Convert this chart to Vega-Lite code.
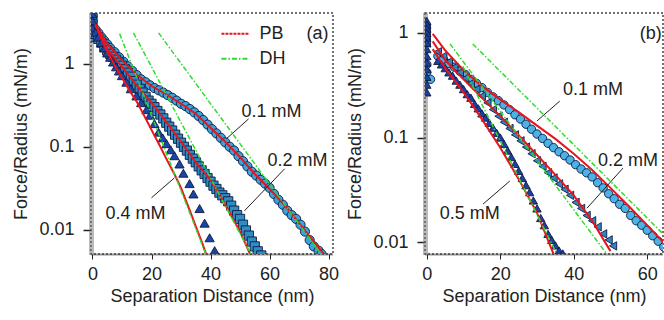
{
  "$schema": "https://vega.github.io/schema/vega-lite/v6.json",
  "padding": {"left": 12, "top": 12, "right": 0, "bottom": 0},
  "spacing": 6,
  "config": {
    "font": "Liberation Sans",
    "view": {"stroke": "#444", "strokeDash": [2, 2], "strokeWidth": 1.5},
    "axis": {"labelFontSize": 18, "titleFontSize": 18, "titleFontWeight": "normal", "labelColor": "#222", "titleColor": "#222", "grid": false, "labelFont": "Liberation Sans", "titleFont": "Liberation Sans"}
  },
  "datasets": {
    "a_pts": [
      {"series":"a 0.1","x":0,"y":3.8},{"series":"a 0.1","x":0,"y":3.2},{"series":"a 0.1","x":0,"y":2.7},{"series":"a 0.1","x":1,"y":2.6},{"series":"a 0.1","x":2,"y":2.35},{"series":"a 0.1","x":3,"y":2.1},{"series":"a 0.1","x":4,"y":1.9},{"series":"a 0.1","x":5,"y":1.72},{"series":"a 0.1","x":6,"y":1.55},{"series":"a 0.1","x":7.5,"y":1.38},{"series":"a 0.1","x":9,"y":1.2},{"series":"a 0.1","x":10.5,"y":1.06},{"series":"a 0.1","x":12,"y":0.93},{"series":"a 0.1","x":13.5,"y":0.82},{"series":"a 0.1","x":15,"y":0.73},{"series":"a 0.1","x":16.5,"y":0.65},{"series":"a 0.1","x":18,"y":0.6},{"series":"a 0.1","x":19.5,"y":0.55},{"series":"a 0.1","x":21,"y":0.51},{"series":"a 0.1","x":22.5,"y":0.48},{"series":"a 0.1","x":24,"y":0.45},{"series":"a 0.1","x":25.5,"y":0.42},{"series":"a 0.1","x":27,"y":0.39},{"series":"a 0.1","x":28.5,"y":0.36},{"series":"a 0.1","x":30,"y":0.33},{"series":"a 0.1","x":31.5,"y":0.31},{"series":"a 0.1","x":33,"y":0.285},{"series":"a 0.1","x":34.5,"y":0.26},{"series":"a 0.1","x":36,"y":0.235},{"series":"a 0.1","x":37.5,"y":0.21},{"series":"a 0.1","x":39,"y":0.185},{"series":"a 0.1","x":40.5,"y":0.163},{"series":"a 0.1","x":42,"y":0.145},{"series":"a 0.1","x":43.5,"y":0.128},{"series":"a 0.1","x":45,"y":0.113},{"series":"a 0.1","x":46.5,"y":0.1},{"series":"a 0.1","x":48,"y":0.09},{"series":"a 0.1","x":49.5,"y":0.077},{"series":"a 0.1","x":51,"y":0.067},{"series":"a 0.1","x":52.5,"y":0.058},{"series":"a 0.1","x":54,"y":0.05},{"series":"a 0.1","x":55.5,"y":0.045},{"series":"a 0.1","x":57,"y":0.04},{"series":"a 0.1","x":58.5,"y":0.036},{"series":"a 0.1","x":60,"y":0.032},{"series":"a 0.1","x":61.5,"y":0.027},{"series":"a 0.1","x":63,"y":0.023},{"series":"a 0.1","x":64.5,"y":0.02},{"series":"a 0.1","x":66,"y":0.017},{"series":"a 0.1","x":67.5,"y":0.015},{"series":"a 0.1","x":69,"y":0.0135},{"series":"a 0.1","x":70.5,"y":0.0115},{"series":"a 0.1","x":72,"y":0.0095},{"series":"a 0.1","x":73.6,"y":0.0075},{"series":"a 0.1","x":75,"y":0.0063},{"series":"a 0.1","x":76.6,"y":0.0056},{"series":"a 0.1","x":77.6,"y":0.0051},
      {"series":"a 0.2","x":0,"y":3.6},{"series":"a 0.2","x":0,"y":3.0},{"series":"a 0.2","x":0,"y":2.5},{"series":"a 0.2","x":0,"y":2.1},{"series":"a 0.2","x":1,"y":2.3},{"series":"a 0.2","x":2,"y":2.0},{"series":"a 0.2","x":3,"y":1.8},{"series":"a 0.2","x":4,"y":1.6},{"series":"a 0.2","x":5,"y":1.45},{"series":"a 0.2","x":6,"y":1.32},{"series":"a 0.2","x":7,"y":1.22},{"series":"a 0.2","x":8,"y":1.12},{"series":"a 0.2","x":9,"y":1.03},{"series":"a 0.2","x":10,"y":0.95},{"series":"a 0.2","x":11,"y":0.86},{"series":"a 0.2","x":12,"y":0.78},{"series":"a 0.2","x":13,"y":0.7},{"series":"a 0.2","x":14,"y":0.62},{"series":"a 0.2","x":15,"y":0.56},{"series":"a 0.2","x":16,"y":0.5},{"series":"a 0.2","x":17,"y":0.45},{"series":"a 0.2","x":18,"y":0.4},{"series":"a 0.2","x":19,"y":0.36},{"series":"a 0.2","x":20,"y":0.33},{"series":"a 0.2","x":21,"y":0.3},{"series":"a 0.2","x":22,"y":0.27},{"series":"a 0.2","x":23,"y":0.245},{"series":"a 0.2","x":24,"y":0.22},{"series":"a 0.2","x":25,"y":0.195},{"series":"a 0.2","x":26,"y":0.175},{"series":"a 0.2","x":27,"y":0.157},{"series":"a 0.2","x":28,"y":0.14},{"series":"a 0.2","x":29,"y":0.125},{"series":"a 0.2","x":30,"y":0.112},{"series":"a 0.2","x":31,"y":0.1},{"series":"a 0.2","x":32,"y":0.09},{"series":"a 0.2","x":33,"y":0.08},{"series":"a 0.2","x":34,"y":0.072},{"series":"a 0.2","x":35,"y":0.065},{"series":"a 0.2","x":36,"y":0.058},{"series":"a 0.2","x":37,"y":0.052},{"series":"a 0.2","x":38,"y":0.047},{"series":"a 0.2","x":39,"y":0.042},{"series":"a 0.2","x":40,"y":0.038},{"series":"a 0.2","x":41,"y":0.034},{"series":"a 0.2","x":42,"y":0.031},{"series":"a 0.2","x":43,"y":0.028},{"series":"a 0.2","x":44,"y":0.026},{"series":"a 0.2","x":45,"y":0.024},{"series":"a 0.2","x":46,"y":0.022},{"series":"a 0.2","x":47,"y":0.0195},{"series":"a 0.2","x":48,"y":0.017},{"series":"a 0.2","x":49,"y":0.015},{"series":"a 0.2","x":50,"y":0.0135},{"series":"a 0.2","x":51,"y":0.0115},{"series":"a 0.2","x":52,"y":0.0098},{"series":"a 0.2","x":53,"y":0.0085},{"series":"a 0.2","x":54,"y":0.0072},{"series":"a 0.2","x":55,"y":0.0063},{"series":"a 0.2","x":56,"y":0.0055},{"series":"a 0.2","x":57.2,"y":0.0049},
      {"series":"a 0.4","x":0,"y":4.0},{"series":"a 0.4","x":0,"y":3.3},{"series":"a 0.4","x":0,"y":2.7},{"series":"a 0.4","x":1,"y":2.4},{"series":"a 0.4","x":2,"y":2.1},{"series":"a 0.4","x":3,"y":1.8},{"series":"a 0.4","x":4,"y":1.55},{"series":"a 0.4","x":5,"y":1.35},{"series":"a 0.4","x":6,"y":1.2},{"series":"a 0.4","x":7,"y":1.05},{"series":"a 0.4","x":8,"y":0.92},{"series":"a 0.4","x":9,"y":0.82},{"series":"a 0.4","x":10,"y":0.72},{"series":"a 0.4","x":11.5,"y":0.6},{"series":"a 0.4","x":13,"y":0.5},{"series":"a 0.4","x":14.9,"y":0.41},{"series":"a 0.4","x":16.5,"y":0.34},{"series":"a 0.4","x":18.3,"y":0.28},{"series":"a 0.4","x":19.5,"y":0.24},{"series":"a 0.4","x":21,"y":0.19},{"series":"a 0.4","x":22.4,"y":0.15},{"series":"a 0.4","x":23.8,"y":0.128},{"series":"a 0.4","x":25.1,"y":0.109},{"series":"a 0.4","x":26.5,"y":0.092},{"series":"a 0.4","x":27.8,"y":0.078},{"series":"a 0.4","x":29.5,"y":0.062},{"series":"a 0.4","x":30.8,"y":0.048},{"series":"a 0.4","x":32.9,"y":0.036},{"series":"a 0.4","x":34.2,"y":0.027},{"series":"a 0.4","x":36.3,"y":0.018},{"series":"a 0.4","x":38,"y":0.012},{"series":"a 0.4","x":39.7,"y":0.008},{"series":"a 0.4","x":41.4,"y":0.0056}
    ],
    "a_pb": [
      {"series":"0.1","x":1,"y":3.0},{"series":"0.1","x":5,"y":1.75},{"series":"0.1","x":10,"y":1.1},{"series":"0.1","x":15,"y":0.74},{"series":"0.1","x":20,"y":0.54},{"series":"0.1","x":25,"y":0.43},{"series":"0.1","x":30,"y":0.33},{"series":"0.1","x":35,"y":0.25},{"series":"0.1","x":40,"y":0.17},{"series":"0.1","x":45,"y":0.115},{"series":"0.1","x":50,"y":0.075},{"series":"0.1","x":55,"y":0.047},{"series":"0.1","x":60,"y":0.031},{"series":"0.1","x":65,"y":0.02},{"series":"0.1","x":70,"y":0.012},{"series":"0.1","x":75,"y":0.0072},{"series":"0.1","x":79,"y":0.0048},
      {"series":"0.2","x":1,"y":3.0},{"series":"0.2","x":5,"y":1.5},{"series":"0.2","x":10,"y":0.92},{"series":"0.2","x":15,"y":0.55},{"series":"0.2","x":20,"y":0.34},{"series":"0.2","x":25,"y":0.2},{"series":"0.2","x":30,"y":0.115},{"series":"0.2","x":35,"y":0.065},{"series":"0.2","x":40,"y":0.04},{"series":"0.2","x":45,"y":0.02},{"series":"0.2","x":50,"y":0.0095},{"series":"0.2","x":53.5,"y":0.005},
      {"series":"0.4","x":1,"y":3.0},{"series":"0.4","x":3,"y":2.0},{"series":"0.4","x":5,"y":1.4},{"series":"0.4","x":8,"y":0.9},{"series":"0.4","x":10,"y":0.68},{"series":"0.4","x":13,"y":0.45},{"series":"0.4","x":15,"y":0.35},{"series":"0.4","x":18,"y":0.22},{"series":"0.4","x":20,"y":0.16},{"series":"0.4","x":23,"y":0.1},{"series":"0.4","x":25,"y":0.072},{"series":"0.4","x":28,"y":0.045},{"series":"0.4","x":30,"y":0.032},{"series":"0.4","x":33,"y":0.017},{"series":"0.4","x":35,"y":0.011},{"series":"0.4","x":37,"y":0.0072},{"series":"0.4","x":38.6,"y":0.005}
    ],
    "a_dh": [
      {"series":"0.1","x":22.4,"y":2.36},{"series":"0.1","x":77.6,"y":0.005},
      {"series":"0.2","x":13.9,"y":2.36},{"series":"0.2","x":53.9,"y":0.0049},
      {"series":"0.4","x":9.2,"y":2.3},{"series":"0.4","x":38.6,"y":0.0049}
    ],
    "a_txt": [
      {"x":50.5,"y":0.264,"label":"0.1 mM"},
      {"x":59.3,"y":0.068,"label":"0.2 mM"},
      {"x":4.4,"y":0.0156,"label":"0.4 mM"},
      {"x":56.6,"y":2.3,"label":"PB"},
      {"x":56.6,"y":1.15,"label":"DH"},
      {"x":72.5,"y":2.3,"label":"(a)"}
    ],
    "a_ptr": [
      {"x":52.9,"y":0.217,"x2":45.4,"y2":0.125},
      {"x":65.1,"y":0.0543,"x2":51.5,"y2":0.0169},
      {"x":20,"y":0.0243,"x2":27.8,"y2":0.0423}
    ],
    "a_leg": [
      {"kind":"PB","x":43.7,"y":2.3,"x2":53.2,"y2":2.3},
      {"kind":"DH","x":43.7,"y":1.15,"x2":53.2,"y2":1.15}
    ],
    "b_pts": [
      {"series":"b 0.1","x":0,"y":0.5},{"series":"b 0.1","x":0,"y":0.42},{"series":"b 0.1","x":1,"y":0.36},{"series":"b 0.1","x":3,"y":0.6},{"series":"b 0.1","x":4.5,"y":0.56},{"series":"b 0.1","x":6,"y":0.51},{"series":"b 0.1","x":7.5,"y":0.47},{"series":"b 0.1","x":9,"y":0.43},{"series":"b 0.1","x":10.5,"y":0.4},{"series":"b 0.1","x":12,"y":0.36},{"series":"b 0.1","x":13.5,"y":0.33},{"series":"b 0.1","x":15,"y":0.3},{"series":"b 0.1","x":16.5,"y":0.27},{"series":"b 0.1","x":18,"y":0.245},{"series":"b 0.1","x":19.5,"y":0.225},{"series":"b 0.1","x":21,"y":0.205},{"series":"b 0.1","x":22.5,"y":0.185},{"series":"b 0.1","x":24,"y":0.165},{"series":"b 0.1","x":25.5,"y":0.15},{"series":"b 0.1","x":27,"y":0.134},{"series":"b 0.1","x":28.5,"y":0.12},{"series":"b 0.1","x":30,"y":0.108},{"series":"b 0.1","x":31.5,"y":0.098},{"series":"b 0.1","x":33,"y":0.088},{"series":"b 0.1","x":34.5,"y":0.08},{"series":"b 0.1","x":36,"y":0.073},{"series":"b 0.1","x":37.5,"y":0.067},{"series":"b 0.1","x":39,"y":0.061},{"series":"b 0.1","x":40.5,"y":0.055},{"series":"b 0.1","x":42,"y":0.05},{"series":"b 0.1","x":43.5,"y":0.046},{"series":"b 0.1","x":45,"y":0.042},{"series":"b 0.1","x":46.5,"y":0.037},{"series":"b 0.1","x":48,"y":0.033},{"series":"b 0.1","x":49.5,"y":0.029},{"series":"b 0.1","x":51,"y":0.026},{"series":"b 0.1","x":52.5,"y":0.023},{"series":"b 0.1","x":54,"y":0.021},{"series":"b 0.1","x":55.5,"y":0.018},{"series":"b 0.1","x":57,"y":0.016},{"series":"b 0.1","x":58.5,"y":0.0145},{"series":"b 0.1","x":60,"y":0.013},{"series":"b 0.1","x":61.5,"y":0.0115},{"series":"b 0.1","x":63,"y":0.0102},{"series":"b 0.1","x":64.5,"y":0.009},
      {"series":"b 0.2","x":0,"y":1.1},{"series":"b 0.2","x":0,"y":0.95},{"series":"b 0.2","x":0,"y":0.8},{"series":"b 0.2","x":3,"y":0.66},{"series":"b 0.2","x":4.5,"y":0.6},{"series":"b 0.2","x":6,"y":0.53},{"series":"b 0.2","x":7.5,"y":0.47},{"series":"b 0.2","x":9,"y":0.42},{"series":"b 0.2","x":10.5,"y":0.37},{"series":"b 0.2","x":12,"y":0.33},{"series":"b 0.2","x":13.5,"y":0.29},{"series":"b 0.2","x":15,"y":0.25},{"series":"b 0.2","x":16.5,"y":0.215},{"series":"b 0.2","x":18,"y":0.185},{"series":"b 0.2","x":19.5,"y":0.16},{"series":"b 0.2","x":21,"y":0.14},{"series":"b 0.2","x":22.5,"y":0.122},{"series":"b 0.2","x":24,"y":0.106},{"series":"b 0.2","x":25.5,"y":0.093},{"series":"b 0.2","x":27,"y":0.081},{"series":"b 0.2","x":28.5,"y":0.07},{"series":"b 0.2","x":30,"y":0.06},{"series":"b 0.2","x":31.5,"y":0.053},{"series":"b 0.2","x":33,"y":0.046},{"series":"b 0.2","x":34.5,"y":0.041},{"series":"b 0.2","x":36,"y":0.036},{"series":"b 0.2","x":37.5,"y":0.032},{"series":"b 0.2","x":39,"y":0.028},{"series":"b 0.2","x":40.5,"y":0.024},{"series":"b 0.2","x":42,"y":0.021},{"series":"b 0.2","x":43.5,"y":0.018},{"series":"b 0.2","x":45,"y":0.016},{"series":"b 0.2","x":46.5,"y":0.014},{"series":"b 0.2","x":48,"y":0.012},{"series":"b 0.2","x":49.5,"y":0.0105},{"series":"b 0.2","x":50.7,"y":0.0092},
      {"series":"b 0.5","x":0,"y":1.3},{"series":"b 0.5","x":0,"y":1.2},{"series":"b 0.5","x":0,"y":1.1},{"series":"b 0.5","x":0,"y":1.0},{"series":"b 0.5","x":0,"y":0.9},{"series":"b 0.5","x":0,"y":0.8},{"series":"b 0.5","x":0,"y":0.7},{"series":"b 0.5","x":0,"y":0.6},{"series":"b 0.5","x":0,"y":0.52},{"series":"b 0.5","x":0,"y":0.45},{"series":"b 0.5","x":0,"y":0.38},{"series":"b 0.5","x":0,"y":0.32},{"series":"b 0.5","x":0,"y":0.27},{"series":"b 0.5","x":3,"y":0.54},{"series":"b 0.5","x":4,"y":0.5},{"series":"b 0.5","x":5,"y":0.46},{"series":"b 0.5","x":6,"y":0.42},{"series":"b 0.5","x":7,"y":0.39},{"series":"b 0.5","x":8,"y":0.35},{"series":"b 0.5","x":9,"y":0.32},{"series":"b 0.5","x":10,"y":0.29},{"series":"b 0.5","x":11,"y":0.26},{"series":"b 0.5","x":12,"y":0.24},{"series":"b 0.5","x":13,"y":0.21},{"series":"b 0.5","x":14,"y":0.19},{"series":"b 0.5","x":15,"y":0.17},{"series":"b 0.5","x":16,"y":0.155},{"series":"b 0.5","x":17,"y":0.138},{"series":"b 0.5","x":18,"y":0.124},{"series":"b 0.5","x":19,"y":0.111},{"series":"b 0.5","x":20,"y":0.1},{"series":"b 0.5","x":21,"y":0.087},{"series":"b 0.5","x":22,"y":0.075},{"series":"b 0.5","x":23,"y":0.065},{"series":"b 0.5","x":24,"y":0.056},{"series":"b 0.5","x":25,"y":0.048},{"series":"b 0.5","x":26,"y":0.041},{"series":"b 0.5","x":27,"y":0.035},{"series":"b 0.5","x":28,"y":0.03},{"series":"b 0.5","x":29,"y":0.025},{"series":"b 0.5","x":30,"y":0.021},{"series":"b 0.5","x":31,"y":0.017},{"series":"b 0.5","x":32,"y":0.0145},{"series":"b 0.5","x":33,"y":0.012},{"series":"b 0.5","x":34,"y":0.0105},{"series":"b 0.5","x":35,"y":0.0093},{"series":"b 0.5","x":36,"y":0.0083},{"series":"b 0.5","x":37,"y":0.0078}
    ],
    "b_pb": [
      {"series":"0.1","x":1.6,"y":0.98},{"series":"0.1","x":5,"y":0.68},{"series":"0.1","x":10,"y":0.44},{"series":"0.1","x":15,"y":0.31},{"series":"0.1","x":20,"y":0.23},{"series":"0.1","x":25,"y":0.175},{"series":"0.1","x":30,"y":0.13},{"series":"0.1","x":35,"y":0.097},{"series":"0.1","x":40,"y":0.07},{"series":"0.1","x":45,"y":0.049},{"series":"0.1","x":50,"y":0.033},{"series":"0.1","x":55,"y":0.022},{"series":"0.1","x":60,"y":0.0145},{"series":"0.1","x":65,"y":0.0095},
      {"series":"0.2","x":1.6,"y":0.83},{"series":"0.2","x":5,"y":0.55},{"series":"0.2","x":10,"y":0.36},{"series":"0.2","x":15,"y":0.24},{"series":"0.2","x":20,"y":0.16},{"series":"0.2","x":25,"y":0.105},{"series":"0.2","x":30,"y":0.068},{"series":"0.2","x":35,"y":0.044},{"series":"0.2","x":40,"y":0.028},{"series":"0.2","x":45,"y":0.016},{"series":"0.2","x":50,"y":0.0082},
      {"series":"0.5","x":1.6,"y":0.7},{"series":"0.5","x":5,"y":0.46},{"series":"0.5","x":10,"y":0.27},{"series":"0.5","x":15,"y":0.15},{"series":"0.5","x":20,"y":0.08},{"series":"0.5","x":25,"y":0.04},{"series":"0.5","x":30,"y":0.019},{"series":"0.5","x":34.5,"y":0.0077}
    ],
    "b_dh": [
      {"series":"0.1","x":12.5,"y":0.785},{"series":"0.1","x":64.3,"y":0.012},
      {"series":"0.2","x":6.3,"y":0.785},{"series":"0.2","x":49,"y":0.0077},
      {"series":"0.5","x":9.8,"y":0.48},{"series":"0.5","x":35.4,"y":0.0077}
    ],
    "b_txt": [
      {"x":37.1,"y":0.285,"label":"0.1 mM"},
      {"x":46.6,"y":0.0596,"label":"0.2 mM"},
      {"x":3.5,"y":0.0185,"label":"0.5 mM"},
      {"x":58,"y":0.98,"label":"(b)"}
    ],
    "b_ptr": [
      {"x":36.2,"y":0.223,"x2":30,"y2":0.144},
      {"x":53.4,"y":0.051,"x2":43.6,"y2":0.0211},
      {"x":15.3,"y":0.0231,"x2":22.6,"y2":0.0384}
    ]
  },
  "hconcat": [
    {
      "width": 242,
      "height": 241,
      "encoding": {
        "x": {"field": "x", "type": "quantitative", "scale": {"domain": [-0.5, 81.5], "nice": false, "zero": false},
              "axis": {"values": [0, 20, 40, 60, 80], "title": "Separation Distance (nm)", "tickSize": 5, "tickColor": "#222", "labelPadding": 6, "titlePadding": 4, "domainColor": "#333", "domainWidth": 2, "domainDash": [1, 1], "labelFlush": false}},
        "y": {"field": "y", "type": "quantitative", "scale": {"type": "log", "domain": [0.0051, 4.1], "nice": false},
              "axis": {"values": [0.01, 0.1, 1], "format": "~g", "title": "Force/Radius (mN/m)", "tickSize": 8, "tickWidth": 1.5, "tickColor": "#222", "labelPadding": 9, "titlePadding": 8, "domainColor": "#777", "domainWidth": 5, "domainDash": [1, 1]}}
      },
      "layer": [
        {
          "data": {"name": "a_pts"},
          "mark": {"type": "point", "filled": true, "opacity": 1, "stroke": "#0d1b3e", "strokeWidth": 0.9, "size": 85, "clip": true},
          "encoding": {
            "shape": {"field": "series", "type": "nominal", "legend": null,
                      "scale": {"domain": ["a 0.1", "a 0.2", "a 0.4", "b 0.1", "b 0.2", "b 0.5"], "range": ["circle", "square", "triangle-up", "circle", "triangle-left", "triangle-up"]}},
            "fill": {"field": "series", "type": "nominal", "legend": null,
                     "scale": {"domain": ["a 0.1", "a 0.2", "a 0.4", "b 0.1", "b 0.2", "b 0.5"], "range": ["#3aa3dc", "#2f8cc5", "#1c43a6", "#4cb2e6", "#2d86c6", "#1d3fa3"]}}
          }
        },
        {
          "data": {"name": "a_pb"},
          "mark": {"type": "line", "color": "#e8141c", "strokeWidth": 2, "clip": true},
          "encoding": {"detail": {"field": "series", "type": "nominal"}}
        },
        {
          "data": {"name": "a_dh"},
          "mark": {"type": "line", "color": "#2edc2e", "strokeWidth": 1.5, "strokeDash": [5, 2, 1.5, 2], "clip": true},
          "encoding": {"detail": {"field": "series", "type": "nominal"}}
        },
        {
          "data": {"name": "a_leg"},
          "mark": {"type": "rule", "strokeWidth": 2},
          "encoding": {
            "x2": {"field": "x2"}, "y2": {"field": "y2"},
            "stroke": {"field": "kind", "type": "nominal", "legend": null, "scale": {"domain": ["PB", "DH"], "range": ["#e8141c", "#2edc2e"]}},
            "strokeDash": {"field": "kind", "type": "nominal", "legend": null, "scale": {"domain": ["PB", "DH"], "range": [[3, 1], [5, 2, 1.5, 2]]}}
          }
        },
        {
          "data": {"name": "a_ptr"},
          "mark": {"type": "rule", "color": "#222", "strokeWidth": 1},
          "encoding": {"x2": {"field": "x2"}, "y2": {"field": "y2"}}
        },
        {
          "data": {"name": "a_txt"},
          "mark": {"type": "text", "align": "left", "baseline": "middle", "fontSize": 18, "font": "Liberation Sans", "color": "#222"},
          "encoding": {"text": {"field": "label", "type": "nominal"}}
        }
      ]
    },
    {
      "width": 238,
      "height": 241,
      "encoding": {
        "x": {"field": "x", "type": "quantitative", "scale": {"domain": [-0.5, 64.3], "nice": false, "zero": false},
              "axis": {"values": [0, 20, 40, 60], "title": "Separation Distance (nm)", "tickSize": 5, "tickColor": "#222", "labelPadding": 6, "titlePadding": 4, "domainColor": "#333", "domainWidth": 2, "domainDash": [1, 1], "labelFlush": false}},
        "y": {"field": "y", "type": "quantitative", "scale": {"type": "log", "domain": [0.0077, 1.55], "nice": false},
              "axis": {"values": [0.01, 0.1, 1], "format": "~g", "title": "Force/Radius (mN/m)", "tickSize": 8, "tickWidth": 1.5, "tickColor": "#222", "labelPadding": 9, "titlePadding": 8, "domainColor": "#777", "domainWidth": 5, "domainDash": [1, 1]}}
      },
      "layer": [
        {
          "data": {"name": "b_pts"},
          "mark": {"type": "point", "filled": true, "opacity": 1, "stroke": "#0d1b3e", "strokeWidth": 0.9, "size": 70, "clip": true},
          "encoding": {
            "shape": {"field": "series", "type": "nominal", "legend": null,
                      "scale": {"domain": ["a 0.1", "a 0.2", "a 0.4", "b 0.1", "b 0.2", "b 0.5"], "range": ["circle", "square", "triangle-up", "circle", "triangle-left", "triangle-up"]}},
            "fill": {"field": "series", "type": "nominal", "legend": null,
                     "scale": {"domain": ["a 0.1", "a 0.2", "a 0.4", "b 0.1", "b 0.2", "b 0.5"], "range": ["#3aa3dc", "#2f8cc5", "#1c43a6", "#4cb2e6", "#2d86c6", "#1d3fa3"]}}
          }
        },
        {
          "data": {"name": "b_pb"},
          "mark": {"type": "line", "color": "#e8141c", "strokeWidth": 2, "clip": true},
          "encoding": {"detail": {"field": "series", "type": "nominal"}}
        },
        {
          "data": {"name": "b_dh"},
          "mark": {"type": "line", "color": "#2edc2e", "strokeWidth": 1.5, "strokeDash": [5, 2, 1.5, 2], "clip": true},
          "encoding": {"detail": {"field": "series", "type": "nominal"}}
        },
        {
          "data": {"name": "b_ptr"},
          "mark": {"type": "rule", "color": "#222", "strokeWidth": 1},
          "encoding": {"x2": {"field": "x2"}, "y2": {"field": "y2"}}
        },
        {
          "data": {"name": "b_txt"},
          "mark": {"type": "text", "align": "left", "baseline": "middle", "fontSize": 18, "font": "Liberation Sans", "color": "#222"},
          "encoding": {"text": {"field": "label", "type": "nominal"}}
        }
      ]
    }
  ]
}
